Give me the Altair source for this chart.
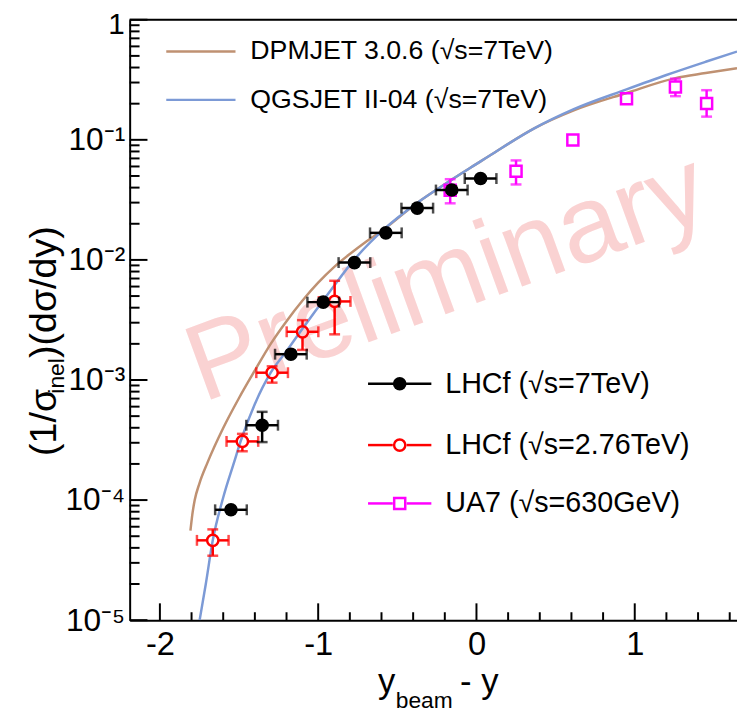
import altair as alt
import pandas as pd

# ---------------- data ----------------
# LHCf sqrt(s)=7TeV (black filled circles)
lhcf7_x = [-1.551, -1.354, -1.1725, -0.968, -0.771, -0.5725, -0.374, -0.156, 0.026]
lhcf7_y = [8.3e-5, 4.2e-4, 1.64e-3, 4.45e-3, 9.5e-3, 0.0168, 0.027, 0.0382, 0.0476]
lhcf7_xerr = [0.1, 0.1, 0.1, 0.1, 0.1, 0.1, 0.1, 0.1, 0.1]
lhcf7_ylo = [8.0e-5, 3.04e-4, 1.60e-3, 4.35e-3, 9.3e-3, 0.0165, 0.0265, 0.0375, 0.0468]
lhcf7_yhi = [8.6e-5, 5.43e-4, 1.68e-3, 4.55e-3, 9.7e-3, 0.0171, 0.0275, 0.0389, 0.0484]

# LHCf sqrt(s)=2.76TeV (red open circles)
lhcf276_x = [-1.666, -1.479, -1.291, -1.099, -0.896]
lhcf276_y = [4.62e-5, 3.08e-4, 1.15e-3, 2.52e-3, 4.51e-3]
lhcf276_xerr = [0.1, 0.1, 0.1, 0.1, 0.1]
lhcf276_ylo = [3.44e-5, 2.55e-4, 9.5e-4, 1.78e-3, 2.4e-3]
lhcf276_yhi = [5.7e-5, 3.56e-4, 1.3e-3, 3.15e-3, 6.7e-3]

# UA7 sqrt(s)=630GeV (magenta open squares)
ua7_x = [-0.166, 0.25, 0.609, 0.948, 1.257, 1.454]
ua7_y = [0.038, 0.0547, 0.0997, 0.22, 0.275, 0.201]
ua7_ylo = [0.0296, 0.0425, 0.0997, 0.22, 0.231, 0.156]
ua7_yhi = [0.047, 0.0674, 0.0997, 0.22, 0.323, 0.259]

# Model curves
dpm_x = [-1.807, -1.795, -1.78, -1.75, -1.70, -1.60, -1.50, -1.40, -1.30, -1.20, -1.10,
         -1.00, -0.90, -0.80, -0.70, -0.58, -0.38, -0.16, 0.026, 0.115, 0.365, 0.615,
         0.948, 1.257, 1.448, 1.646]
dpm_y = [5.56e-5, 7.6e-5, 1.0e-4, 1.38e-4, 2.04e-4, 3.98e-4, 7.08e-4, 1.20e-3, 2.0e-3,
         3.09e-3, 4.57e-3, 6.46e-3, 8.71e-3, 1.12e-2, 1.41e-2, 1.82e-2, 2.95e-2, 4.62e-2,
         6.61e-2, 7.85e-2, 0.1245, 0.1758, 0.2455, 0.3266, 0.3597, 0.3954]
qgs_x = [-1.749, -1.71, -1.666, -1.60, -1.53, -1.49, -1.40, -1.30, -1.20, -1.12, -1.02,
         -0.93, -0.78, -0.58, -0.38, -0.16, 0.026, 0.115, 0.365, 0.615, 0.948, 1.20,
         1.448, 1.646]
qgs_y = [1.0e-5, 2.0e-5, 4.62e-5, 1.05e-4, 2.09e-4, 3.09e-4, 6.31e-4, 1.15e-3, 1.74e-3,
         2.45e-3, 3.72e-3, 5.37e-3, 9.77e-3, 1.82e-2, 2.95e-2, 4.62e-2, 6.61e-2, 7.85e-2,
         0.1245, 0.1799, 0.263, 0.3467, 0.4467, 0.5433]

# axis ticks
x_major = [-2, -1, 0, 1]
x_minor = [-1.8, -1.6, -1.4, -1.2, -0.8, -0.6, -0.4, -0.2, 0.2, 0.4, 0.6, 0.8, 1.2, 1.4, 1.6]
y_major = [1e-5, 1e-4, 1e-3, 1e-2, 1e-1, 1]
y_labeled = [1e-5, 1e-4, 1e-3, 1e-2, 1e-1]
y_minor = [m * 10.0 ** e for e in range(-5, 0) for m in range(2, 10)]

FONT = "Liberation Sans"
W, H = 614, 607

xs = alt.Scale(domain=[-2.191, 1.646], nice=False, zero=False)
ys = alt.Scale(type="log", domain=[1e-5, 1], nice=False)

xaxis = alt.Axis(values=x_major, ticks=False, grid=False, domain=True, domainColor="black",
                 domainWidth=2, labelFont=FONT, labelFontSize=33, labelColor="black",
                 labelPadding=9, labelFlush=False, labelOverlap=False, title=None,
                 labelExpr="datum.value == 0 ? '0' : (datum.value < 0 ? '-' + abs(datum.value) : '' + datum.value)")
yaxis = alt.Axis(values=y_labeled, ticks=False, grid=False, domain=True, domainColor="black",
                 domainWidth=2, labelFont=FONT, labelFontSize=32, labelColor="black",
                 labelPadding=5, labelFlush=False, labelOverlap=False, title=None,
                 labelExpr="datum.value > 0.05 ? '10\u207b\u00b9' : datum.value > 0.005 ? '10\u207b\u00b2' : datum.value > 0.0005 ? '10\u207b\u00b3' : datum.value > 0.00005 ? '10\u207b\u2074' : '10\u207b\u2075'")


def X(f):
    return alt.X(f, type="quantitative", scale=xs, axis=xaxis)


def Y(f):
    return alt.Y(f, type="quantitative", scale=ys, axis=yaxis)


one = pd.DataFrame({"k": [0]})


def vtext(txt, x, y, size, color="black", angle=0, align="left", baseline="middle"):
    kw = dict(text=txt, font=FONT, fontSize=size, color=color, align=align, baseline=baseline)
    if angle:
        kw["angle"] = angle
    return alt.Chart(one).mark_text(**kw).encode(x=alt.value(x), y=alt.value(y))


def vrule(x1, x2, y1, y2, color, w=2.5):
    return alt.Chart(one).mark_rule(color=color, strokeWidth=w).encode(
        x=alt.value(x1), x2=alt.value(x2), y=alt.value(y1), y2=alt.value(y2))


def vpoint(x, y, color, shape, filled, size):
    return alt.Chart(one).mark_point(shape=shape, filled=filled, size=size, color=color,
                                     strokeWidth=2.5, opacity=1).encode(x=alt.value(x), y=alt.value(y))


layers = []

# watermark
layers.append(vtext("Preliminary", 321, 262, 110, color="#fad2d2", angle=340, align="center"))

# axis ticks (inward, ROOT style)
tx_major = pd.DataFrame({"v": x_major})
tx_minor = pd.DataFrame({"v": x_minor})
ty_major = pd.DataFrame({"v": y_major})
ty_minor = pd.DataFrame({"v": y_minor})
layers.append(alt.Chart(tx_major).mark_rule(color="black", strokeWidth=2).encode(
    x=X("v"), y=alt.value(H), y2=alt.value(H - 17)))
layers.append(alt.Chart(tx_minor).mark_rule(color="black", strokeWidth=2).encode(
    x=X("v"), y=alt.value(H), y2=alt.value(H - 8)))
layers.append(alt.Chart(ty_major).mark_rule(color="black", strokeWidth=2).encode(
    y=Y("v"), x=alt.value(0), x2=alt.value(18)))
layers.append(alt.Chart(ty_minor).mark_rule(color="black", strokeWidth=2).encode(
    y=Y("v"), x=alt.value(0), x2=alt.value(10)))
# top frame line
layers.append(vrule(0, W, 0, 0, "black", 2))
# top tick label "1" (kept just inside the page edge)
layers.append(vtext("1", -5, 5, 30, align="right"))

# model curves
BROWN = "#bf9172"
BLUE = "#7c9ad6"
dpm = pd.DataFrame({"x": dpm_x, "y": dpm_y})
qgs = pd.DataFrame({"x": qgs_x, "y": qgs_y})
layers.append(alt.Chart(dpm).mark_line(color=BROWN, strokeWidth=2.5, clip=True,
                                       interpolate="monotone").encode(x=X("x"), y=Y("y")))
layers.append(alt.Chart(qgs).mark_line(color=BLUE, strokeWidth=2.5, clip=True,
                                       interpolate="monotone").encode(x=X("x"), y=Y("y")))

# data tables
d7 = pd.DataFrame({"x": lhcf7_x, "y": lhcf7_y,
                   "xlo": [a - b for a, b in zip(lhcf7_x, lhcf7_xerr)],
                   "xhi": [a + b for a, b in zip(lhcf7_x, lhcf7_xerr)],
                   "ylo": lhcf7_ylo, "yhi": lhcf7_yhi})
d276 = pd.DataFrame({"x": lhcf276_x, "y": lhcf276_y,
                     "xlo": [a - b for a, b in zip(lhcf276_x, lhcf276_xerr)],
                     "xhi": [a + b for a, b in zip(lhcf276_x, lhcf276_xerr)],
                     "ylo": lhcf276_ylo, "yhi": lhcf276_yhi})
dua7 = pd.DataFrame({"x": ua7_x, "y": ua7_y, "ylo": ua7_ylo, "yhi": ua7_yhi})

CAP = 11
LW = 2.5

# UA7 (magenta)
MAG = "#ff00ff"
b = alt.Chart(dua7).transform_filter("datum.yhi > datum.y")
layers += [
    b.mark_rule(color=MAG, strokeWidth=LW, y2Offset=6).encode(x=X("x"), y=Y("ylo"), y2="y"),
    b.mark_rule(color=MAG, strokeWidth=LW, yOffset=-6).encode(x=X("x"), y=Y("y"), y2="yhi"),
    b.mark_tick(color=MAG, orient="horizontal", size=CAP, thickness=LW).encode(x=X("x"), y=Y("ylo")),
    b.mark_tick(color=MAG, orient="horizontal", size=CAP, thickness=LW).encode(x=X("x"), y=Y("yhi")),
    alt.Chart(dua7).mark_point(shape="square", filled=False, size=125, color=MAG, strokeWidth=LW,
                               opacity=1).encode(x=X("x"), y=Y("y")),
]

# LHCf 2.76 TeV (red)
RED = "#ff0000"
b = alt.Chart(d276)
layers += [
    b.mark_rule(color=RED, strokeWidth=LW, x2Offset=-6).encode(x=X("xlo"), x2="x", y=Y("y")),
    b.mark_rule(color=RED, strokeWidth=LW, xOffset=6).encode(x=X("x"), x2="xhi", y=Y("y")),
    b.mark_rule(color=RED, strokeWidth=LW, y2Offset=6).encode(x=X("x"), y=Y("ylo"), y2="y"),
    b.mark_rule(color=RED, strokeWidth=LW, yOffset=-6).encode(x=X("x"), y=Y("y"), y2="yhi"),
    b.mark_tick(color=RED, orient="vertical", size=CAP, thickness=LW).encode(x=X("xlo"), y=Y("y")),
    b.mark_tick(color=RED, orient="vertical", size=CAP, thickness=LW).encode(x=X("xhi"), y=Y("y")),
    b.mark_tick(color=RED, orient="horizontal", size=CAP, thickness=LW).encode(x=X("x"), y=Y("ylo")),
    b.mark_tick(color=RED, orient="horizontal", size=CAP, thickness=LW).encode(x=X("x"), y=Y("yhi")),
    b.mark_point(shape="circle", filled=False, size=130, color=RED, strokeWidth=LW,
                 opacity=1).encode(x=X("x"), y=Y("y")),
]

# LHCf 7 TeV (black)
BLK = "#000000"
b = alt.Chart(d7)
layers += [
    b.mark_rule(color=BLK, strokeWidth=LW).encode(x=X("xlo"), x2="xhi", y=Y("y")),
    b.mark_rule(color=BLK, strokeWidth=LW).encode(x=X("x"), y=Y("ylo"), y2="yhi"),
    b.mark_tick(color=BLK, orient="vertical", size=CAP, thickness=LW).encode(x=X("xlo"), y=Y("y")),
    b.mark_tick(color=BLK, orient="vertical", size=CAP, thickness=LW).encode(x=X("xhi"), y=Y("y")),
    b.mark_tick(color=BLK, orient="horizontal", size=CAP, thickness=LW).encode(x=X("x"), y=Y("ylo")),
    b.mark_tick(color=BLK, orient="horizontal", size=CAP, thickness=LW).encode(x=X("x"), y=Y("yhi")),
    b.mark_point(shape="circle", filled=True, size=190, color=BLK, opacity=1).encode(x=X("x"), y=Y("y")),
]

# legends (top: models)
LF = 27
LB = 29
layers += [
    vrule(37, 107, 32, 32, BROWN),
    vtext("DPMJET 3.0.6 (\u221as=7TeV)", 122, 32, LF),
    vrule(37, 107, 81, 81, BLUE),
    vtext("QGSJET II-04 (\u221as=7TeV)", 122, 81, LF),
]
# legends (bottom: data)
layers += [
    vrule(241, 305, 368, 368, BLK),
    vpoint(273, 368, BLK, "circle", True, 190),
    vtext("LHCf (\u221as=7TeV)", 319, 368, LB),
    vrule(241, 266, 430, 430, RED),
    vrule(280, 305, 430, 430, RED),
    vpoint(273, 430, RED, "circle", False, 130),
    vtext("LHCf (\u221as=2.76TeV)", 319, 430, LB),
    vrule(241, 266, 489, 489, MAG),
    vrule(280, 305, 489, 489, MAG),
    vpoint(273, 489, MAG, "square", False, 125),
    vtext("UA7 (\u221as=630GeV)", 319, 489, LB),
]

# axis titles
layers += [
    vtext("y", 251, 681, 35, baseline="alphabetic"),
    vtext("beam", 269, 696, 23, baseline="alphabetic"),
    vtext("- y", 334, 681, 35, baseline="alphabetic"),
    vtext("(1/\u03c3", -74, 441, 38, angle=270, baseline="alphabetic"),
    vtext("inel", -66, 378, 23, angle=270, baseline="alphabetic"),
    vtext(")(d\u03c3/dy)", -74, 342, 38, angle=270, baseline="alphabetic"),
]

chart = alt.layer(*layers).properties(
    width=W, height=H,
    autosize=alt.AutoSizeParams(type="none"),
    padding={"left": 123, "top": 8, "right": 0, "bottom": 91},
).configure_view(stroke=None).configure(background="white")

chart.save("out.html", embed_options={"renderer": "svg", "actions": False})
